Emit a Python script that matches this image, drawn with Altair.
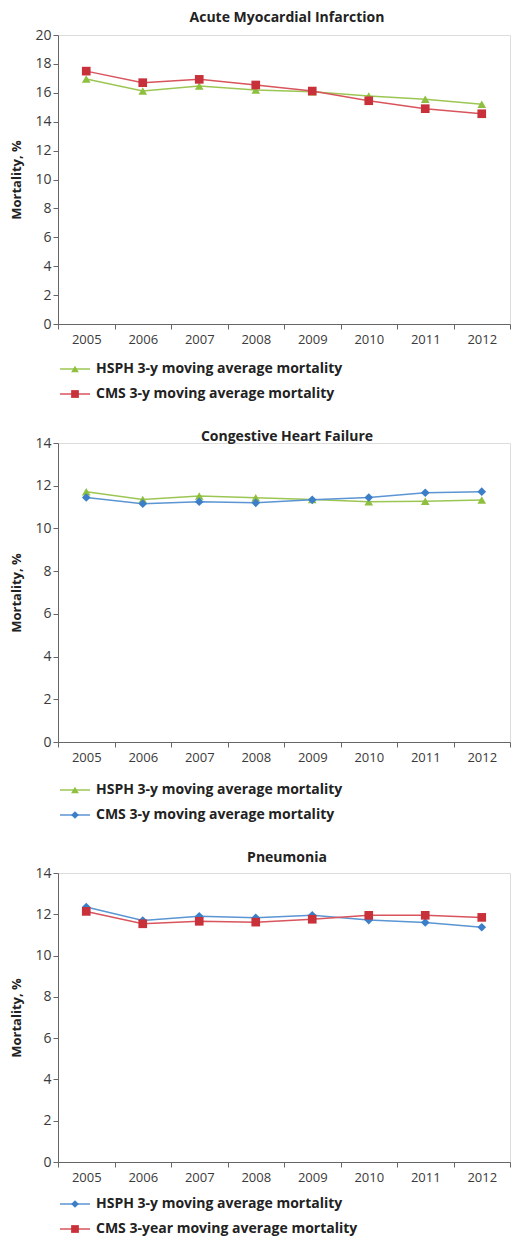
import altair as alt
import pandas as pd

years = ["2005", "2006", "2007", "2008", "2009", "2010", "2011", "2012"]

ami_hsph = [16.95, 16.12, 16.47, 16.2, 16.08, 15.78, 15.55, 15.2]
ami_cms = [17.5, 16.7, 16.93, 16.54, 16.12, 15.45, 14.9, 14.55]

chf_hsph = [11.72, 11.36, 11.52, 11.44, 11.36, 11.25, 11.27, 11.33]
chf_cms = [11.45, 11.16, 11.25, 11.2, 11.34, 11.45, 11.67, 11.72]

pn_hsph = [12.35, 11.7, 11.9, 11.83, 11.95, 11.72, 11.6, 11.37]
pn_cms = [12.14, 11.54, 11.66, 11.62, 11.76, 11.95, 11.95, 11.85]

GREEN = "#8fbf3f"
GREEN_L = "#9cc653"
RED = "#c8303a"
RED_L = "#d9545c"
BLUE = "#3c7fc8"
BLUE_L = "#5b95d3"

FONT = "Open Sans"
TXT = "#3a3a3a"
W = 452


def panel(title, s1_name, s1_vals, s1_shape, s1_col, s1_line,
          s2_name, s2_vals, s2_shape, s2_col, s2_line,
          ymax, height, leg_offset, title_dy):
    rows = []
    for y, v in zip(years, s1_vals):
        rows.append({"Year": y, "Mortality": v, "Series": s1_name})
    for y, v in zip(years, s2_vals):
        rows.append({"Year": y, "Mortality": v, "Series": s2_name})
    df = pd.DataFrame(rows)
    names = [s1_name, s2_name]
    line_scale = alt.Scale(domain=names, range=[s1_line, s2_line])
    fill_scale = alt.Scale(domain=names, range=[s1_col, s2_col])
    shape_scale = alt.Scale(domain=names, range=[s1_shape, s2_shape])

    x = alt.X("Year:O", sort=years, title=None,
              scale=alt.Scale(paddingInner=0, paddingOuter=0),
              axis=alt.Axis(labelAngle=0, tickBand="extent", domainColor="#666",
                            tickColor="#666", labelColor=TXT, labelFont=FONT,
                            labelFontSize=13, labelPadding=4, tickSize=5))
    y = alt.Y("Mortality:Q", title="Mortality, %",
              scale=alt.Scale(domain=[0, ymax], nice=False),
              axis=alt.Axis(values=list(range(0, ymax + 1, 2)), grid=False,
                            domainColor="#666", tickColor="#666", tickSize=5,
                            labelPadding=2,
                            labelColor=TXT, labelFont=FONT, labelFontSize=14,
                            titleFont=FONT, titleFontSize=13, titleFontWeight="bold",
                            titleColor="#222", titlePadding=11))

    base = alt.Chart(df)
    lines = base.mark_line(strokeWidth=1.5).encode(
        x=x, y=y, detail="Series:N",
        stroke=alt.Stroke("Series:N", scale=line_scale, legend=None))
    pts = base.mark_point(filled=True, size=75, opacity=1).encode(
        x=x, y=y,
        fill=alt.Fill("Series:N", scale=fill_scale, legend=None),
        shape=alt.Shape("Series:N", scale=shape_scale, legend=None))

    ttl = alt.Chart(pd.DataFrame({"Title": [title]})).mark_text(
        align="center", baseline="middle", font=FONT, fontSize=14,
        fontWeight="bold", color="#222").encode(
        x=alt.value(W / 2 + 3), y=alt.value(-title_dy), text="Title:N")

    layers = [lines, pts, ttl]
    for i, nm in enumerate(names):
        ypos = height + leg_offset + 25 * i
        lbase = alt.Chart(pd.DataFrame({"Series": [nm]}))
        layers.append(lbase.mark_rule(strokeWidth=1.5).encode(
            x=alt.value(2), x2=alt.value(32), y=alt.value(ypos),
            stroke=alt.Stroke("Series:N", scale=line_scale, legend=None)))
        layers.append(lbase.mark_point(filled=True, size=60, opacity=1).encode(
            x=alt.value(17), y=alt.value(ypos),
            fill=alt.Fill("Series:N", scale=fill_scale, legend=None),
            shape=alt.Shape("Series:N", scale=shape_scale, legend=None)))
        layers.append(lbase.mark_text(align="left", baseline="middle", font=FONT,
                                      fontSize=14, fontWeight="bold", color="#222").encode(
            x=alt.value(38), y=alt.value(ypos), text="Series:N"))

    return alt.layer(*layers).properties(width=W, height=height)


p1 = panel("Acute Myocardial Infarction",
           "HSPH 3-y moving average mortality", ami_hsph, "triangle-up", GREEN, GREEN_L,
           "CMS 3-y moving average mortality", ami_cms, "square", RED, RED_L,
           20, 289, 45, 17)
p2 = panel("Congestive Heart Failure",
           "HSPH 3-y moving average mortality", chf_hsph, "triangle-up", GREEN, GREEN_L,
           "CMS 3-y moving average mortality", chf_cms, "diamond", BLUE, BLUE_L,
           14, 299, 48, 6)
p3 = panel("Pneumonia",
           "HSPH 3-y moving average mortality", pn_hsph, "diamond", BLUE, BLUE_L,
           "CMS 3-year moving average mortality", pn_cms, "square", RED, RED_L,
           14, 289, 42, 15)

chart = alt.vconcat(p1, p2, p3, spacing=27).resolve_scale(
    y="independent", stroke="independent", fill="independent", shape="independent"
).configure_view(stroke=None).configure(
    padding={"left": 2, "top": 2, "right": 0, "bottom": 0})

chart.save("out.html", embed_options={"renderer": "svg", "actions": False})
